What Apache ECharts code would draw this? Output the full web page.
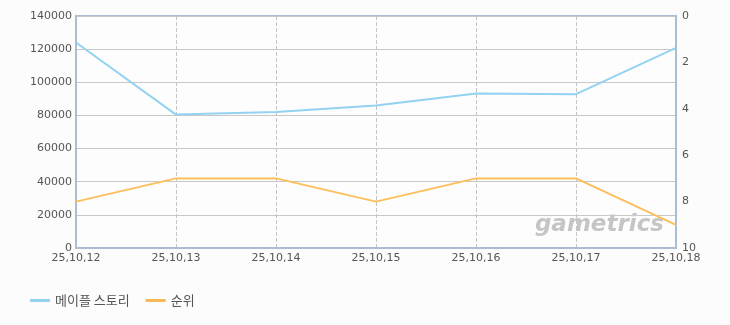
<!DOCTYPE html>
<html><head><meta charset="utf-8">
<script src="https://cdn.jsdelivr.net/npm/echarts@6/dist/echarts.min.js"></script>
<style>html,body{margin:0;padding:0;background:#fcfcfc}#c{width:730px;height:325px}</style>
</head><body><div id="c"></div>
<script>
const categories = ['25,10,12','25,10,13','25,10,14','25,10,15','25,10,16','25,10,17','25,10,18'];
const usersSeries = [124000, 80500, 82000, 86000, 93200, 92800, 120800];
const rankSeries = [8, 7, 7, 8, 7, 7, 9];
const seriesNames = ['메이플 스토리', '순위'];

const chart = echarts.init(document.getElementById('c'));
const font = '"Noto Sans CJK KR", "DejaVu Sans", sans-serif';
chart.setOption({
  backgroundColor: '#fcfcfc',
  animation: false,
  textStyle: {fontFamily: font},
  grid: {left: 76, right: 54, top: 16, bottom: 77, show: true, backgroundColor: '#fdfdfd', borderColor: '#a9bdd3', borderWidth: 2},
  legend: {left: 30, bottom: 18, padding: 0, itemWidth: 20, itemHeight: 3, itemGap: 16, icon: 'rect',
    textStyle: {color: '#555', fontSize: 13, fontFamily: font}},
  graphic: [{type: 'text', right: 66, top: 214, z: 0,
    style: {text: 'gametrics', fontSize: 23, fontStyle: 'italic', fontWeight: 'bold', fill: 'rgba(160,160,160,0.6)', fontFamily: 'DejaVu Sans'}}],
  xAxis: {type: 'category', data: categories, boundaryGap: false,
    axisLine: {lineStyle: {color: '#a9bdd3', width: 2}}, axisTick: {show: false},
    axisLabel: {color: '#555', fontSize: 11, margin: 5, fontFamily: 'DejaVu Sans'},
    splitLine: {show: true, lineStyle: {color: '#c4c4c4', type: 'dashed'}}},
  yAxis: [
    {type: 'value', min: 0, max: 140000, interval: 20000,
      axisLine: {show: true, lineStyle: {color: '#a9bdd3', width: 2}}, axisTick: {show: false},
      axisLabel: {color: '#555', fontSize: 11, margin: 4, fontFamily: 'DejaVu Sans', formatter: v => String(v)},
      splitLine: {lineStyle: {color: '#c8c8c8'}}},
    {type: 'value', min: 0, max: 10, interval: 2, inverse: true,
      axisLine: {show: true, lineStyle: {color: '#a9bdd3', width: 2}}, axisTick: {show: false},
      axisLabel: {color: '#555', fontSize: 11, margin: 6, fontFamily: 'DejaVu Sans'},
      splitLine: {show: false}}
  ],
  series: [
    {name: seriesNames[0], type: 'line', data: usersSeries, yAxisIndex: 0, symbol: 'none',
      lineStyle: {color: '#93d2f0', width: 2}, itemStyle: {color: '#93d2f0'}},
    {name: seriesNames[1], type: 'line', data: rankSeries, yAxisIndex: 1, symbol: 'none',
      lineStyle: {color: '#fdbf5c', width: 2}, itemStyle: {color: '#f5b95a'}}
  ]
});
</script></body></html>
